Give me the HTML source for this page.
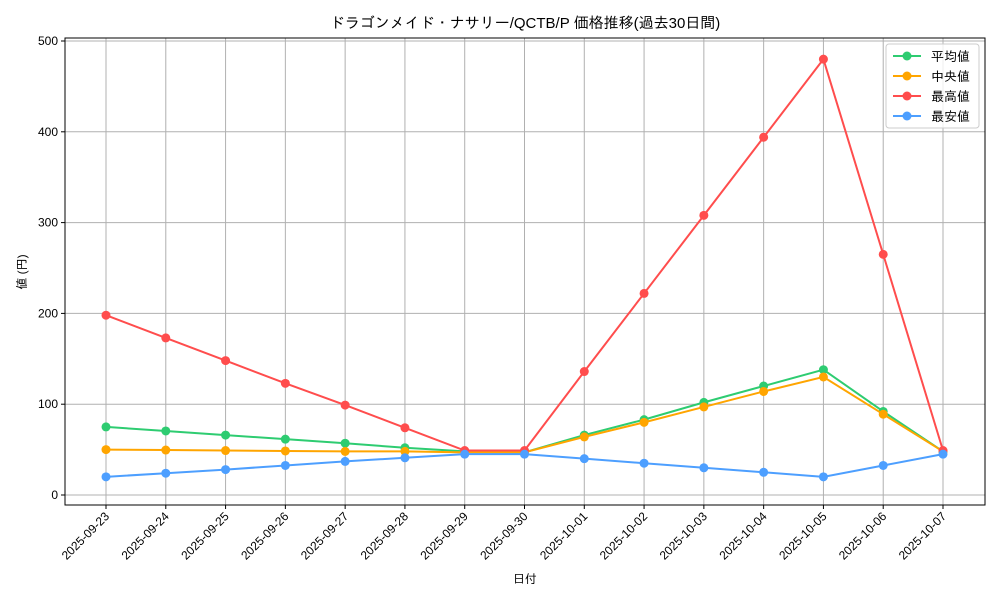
<!DOCTYPE html>
<html><head><meta charset="utf-8"><style>
body{margin:0;background:#fff;}
svg{display:block;font-family:"Liberation Sans","IPAGothic","Noto Sans CJK JP",sans-serif;}
</style></head><body>
<svg id="chart" width="1000" height="600"></svg>
<script>
const dates=["2025-09-23","2025-09-24","2025-09-25","2025-09-26","2025-09-27","2025-09-28","2025-09-29","2025-09-30","2025-10-01","2025-10-02","2025-10-03","2025-10-04","2025-10-05","2025-10-06","2025-10-07"];
const avgVals=[75,70.5,66,61.5,57,52,48,47,66,83,102,120,138,92,48];
const medVals=[50,49.5,49,48.5,48,48,47,47,64,80,97,114,130,89,48];
const maxVals=[198,173,148,123,99,74,49,49,136,222,308,394,480,265,49];
const minVals=[20,24,28,32.5,37,41,45,45,40,35,30,25,20,32.5,45];
const yTicks=[0,100,200,300,400,500];
const seriesNames=["平均値","中央値","最高値","最安値"];
const NS="http://www.w3.org/2000/svg";
const svg=document.getElementById('chart');
const L=65,R=985,T=38,B=505;
const xS=i=>106+i*(943-106)/(dates.length-1);
const yS=v=>495-v*(454/500);
function mk(tag,attrs,parent){const e=document.createElementNS(NS,tag);for(const k in attrs)e.setAttribute(k,attrs[k]);(parent||svg).appendChild(e);return e;}
// grid
dates.forEach((d,i)=>{const g=mk('line',{x1:xS(i),x2:xS(i),y1:T,y2:B,stroke:'#b0b0b0','stroke-width':1});

});
yTicks.forEach(v=>{const g=mk('line',{x1:L,x2:R,y1:yS(v),y2:yS(v),stroke:'#b0b0b0','stroke-width':1});

});
const fr=mk('rect',{x:L,y:T,width:R-L,height:B-T,fill:'none',stroke:'#000','stroke-width':1});


// ticks
yTicks.forEach(v=>{mk('line',{x1:L-4,x2:L,y1:yS(v),y2:yS(v),stroke:'#000'});
const t=mk('text',{x:L-7,y:yS(v)+4,'text-anchor':'end','font-size':12});t.textContent=v;

});
dates.forEach((d,i)=>{mk('line',{x1:xS(i),x2:xS(i),y1:B,y2:B+4,stroke:'#000'});
const t=mk('text',{x:xS(i)+4,y:B+12,'text-anchor':'end','font-size':12,transform:`rotate(-45 ${xS(i)+4} ${B+12})`});t.textContent=d;

});
// series
const series=[[avgVals,'#2ecc71'],[medVals,'#ffa500'],[maxVals,'#ff4d4d'],[minVals,'#4d9fff']];
series.forEach(([vals,c],si)=>{
const p=mk('polyline',{points:vals.map((v,i)=>xS(i)+','+yS(v)).join(' '),fill:'none',stroke:c,'stroke-width':2});


vals.forEach((v,i)=>{const m=mk('circle',{cx:xS(i),cy:yS(v),r:4.5,fill:c});

});
});
// titles
let t=mk('text',{x:525,y:28,'text-anchor':'middle','font-size':15});t.textContent='ドラゴンメイド・ナサリー/QCTB/P 価格推移(過去30日間)';


t=mk('text',{x:525,y:583,'text-anchor':'middle','font-size':12});t.textContent='日付';


t=mk('text',{x:26,y:272,'text-anchor':'middle','font-size':12,transform:'rotate(-90 26 272)'});t.textContent='値 (円)';


// legend
const lg=mk('rect',{x:886,y:44,width:93,height:84,rx:3,fill:'#fff','fill-opacity':0.8,stroke:'#ccc'});


series.forEach(([v,c],i)=>{const y=56+i*20;
mk('line',{x1:893,x2:921,y1:y,y2:y,stroke:c,'stroke-width':2});
mk('circle',{cx:907,cy:y,r:4.5,fill:c});
const lt=mk('text',{x:931,y:y+5,'font-size':13});lt.textContent=seriesNames[i];

});
</script>
</body></html>
